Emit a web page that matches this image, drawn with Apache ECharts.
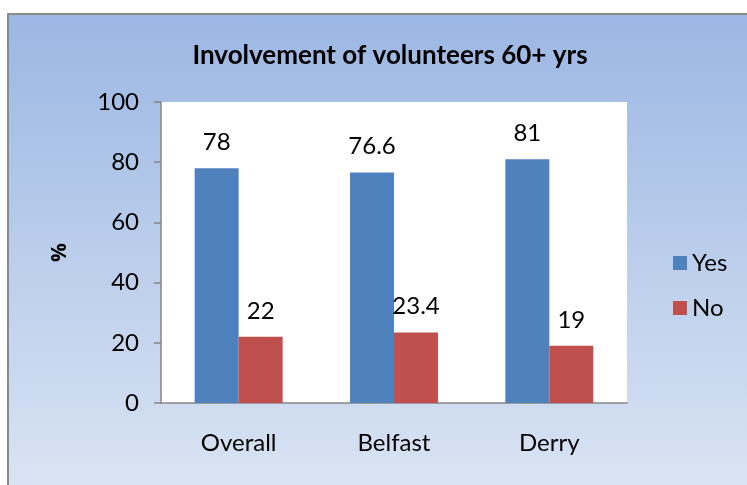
<!DOCTYPE html>
<html>
<head>
<meta charset="utf-8">
<script src="https://cdn.jsdelivr.net/npm/echarts@6/dist/echarts.min.js"></script>
<style>
html, body { margin: 0; padding: 0; background: #fff; }
.frame {
  position: absolute; left: 7px; top: 13px; width: 760px; height: 500px;
  border-left: 2px solid #8a8a8a; border-top: 2px solid #8a8a8a;
  background: linear-gradient(to bottom, #9bb7e3 0%, #dde6f4 100%);
}
#chart { position: absolute; left: 0; top: 0; width: 747px; height: 485px; }
</style>
</head>
<body>
<div class="frame"></div>
<div id="chart"></div>
<script>
const categories = ['Overall', 'Belfast', 'Derry']
const yesValues = [78, 76.6, 81]
const noValues = [22, 23.4, 19]

const font = 'Lato, "Open Sans", sans-serif'

const labelStyle = {
  show: true,
  position: 'top',
  distance: 14,
  fontFamily: font,
  fontSize: 24,
  color: '#000'
}

const chart = echarts.init(document.getElementById('chart'))
chart.setOption({
  backgroundColor: 'transparent',
  animation: false,
  title: {
    text: 'Involvement of volunteers 60+ yrs',
    left: 385,
    textAlign: 'center',
    top: 38,
    textStyle: { fontFamily: font, fontWeight: 'bold', fontSize: 26, color: '#000' }
  },
  legend: {
    orient: 'vertical',
    left: 668,
    top: 246,
    itemWidth: 14,
    itemHeight: 14,
    itemGap: 21,
    icon: 'rect',
    textStyle: { fontFamily: font, fontSize: 24, color: '#000' },
    data: ['Yes', 'No']
  },
  grid: {
    left: 161, right: 120, top: 102, bottom: 82,
    show: true, backgroundColor: '#fff', borderWidth: 0
  },
  xAxis: {
    type: 'category',
    data: categories,
    axisLine: { lineStyle: { color: '#868686', width: 1.5 } },
    axisTick: { length: 8, lineStyle: { color: '#868686', width: 1.5 } },
    axisLabel: { margin: 28, fontFamily: font, fontSize: 24, color: '#000' }
  },
  yAxis: {
    type: 'value',
    min: 0, max: 100, interval: 20,
    name: '%',
    nameLocation: 'middle',
    nameRotate: 90,
    nameGap: 90,
    nameTextStyle: { fontFamily: '"Open Sans", sans-serif', fontWeight: 'bold', fontSize: 21, color: '#000' },
    splitLine: { show: false },
    axisLine: { show: true, lineStyle: { color: '#868686', width: 1.5 } },
    axisTick: { show: true, length: 7, lineStyle: { color: '#868686', width: 1.5 } },
    axisLabel: { margin: 22, fontFamily: font, fontSize: 24, color: '#000' }
  },
  series: [
    {
      name: 'Yes', type: 'bar', data: yesValues,
      barWidth: 44, barGap: '0%',
      itemStyle: { color: '#4f81bd' },
      label: labelStyle
    },
    {
      name: 'No', type: 'bar', data: noValues,
      barWidth: 44, barGap: '0%',
      itemStyle: { color: '#c0504d' },
      label: labelStyle
    }
  ]
})
</script>
</body>
</html>
